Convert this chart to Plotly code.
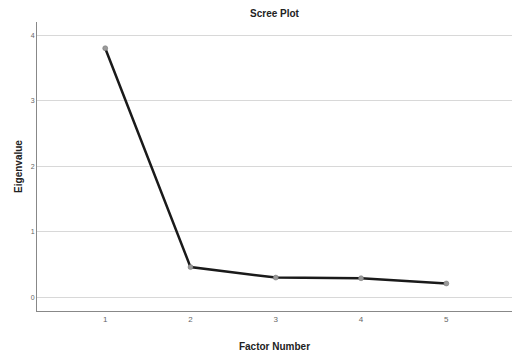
import plotly.graph_objects as go

factors = [1, 2, 3, 4, 5]
eigenvalues = [3.80, 0.46, 0.30, 0.29, 0.21]
y_ticks = [0, 1, 2, 3, 4]

W, H = 512, 359

fig = go.Figure()
fig.add_trace(go.Scatter(
    x=factors, y=eigenvalues, mode="lines+markers",
    line=dict(color="#1a1a1a", width=2.5),
    marker=dict(color="#9a9a9a", size=5, line=dict(color="#707070", width=0.5)),
    showlegend=False,
))

fig.update_layout(
    width=W, height=H,
    margin=dict(l=37, r=0, t=22, b=48, pad=0),
    paper_bgcolor="white", plot_bgcolor="white",
    title=dict(text="<b>Scree Plot</b>", x=(37 + 512) / 2 / W, xanchor="center",
               y=1 - 13 / H, yanchor="middle",
               font=dict(family="Liberation Sans, Arial", size=10, color="#222222")),
    font=dict(family="Liberation Sans, Arial", size=7, color="#555555"),
    xaxis=dict(range=[0.2, 5.77], tickvals=factors, ticktext=[str(f) for f in factors],
               showgrid=False, zeroline=False, showline=True, linecolor="#888888", linewidth=1,
               ticks="", tickfont=dict(size=8, color="#666666"), automargin=False,
               title=dict(text="<b>Factor Number</b>", font=dict(size=10, color="#222222"), standoff=20)),
    yaxis=dict(range=[-0.21, 4.2], tickvals=y_ticks, ticktext=[str(v) for v in y_ticks],
               showgrid=True, gridcolor="#d8d8d8", gridwidth=1, zeroline=False,
               showline=True, linecolor="#888888", linewidth=1, ticks="", automargin=False,
               tickfont=dict(size=7, color="#666666"),
               title=dict(text="<b>Eigenvalue</b>", font=dict(size=10, color="#222222"), standoff=6)),
)

fig.write_html("out.html", config={"displayModeBar": False},
               post_script="document.body.style.margin='0';document.body.style.overflow='hidden';")
